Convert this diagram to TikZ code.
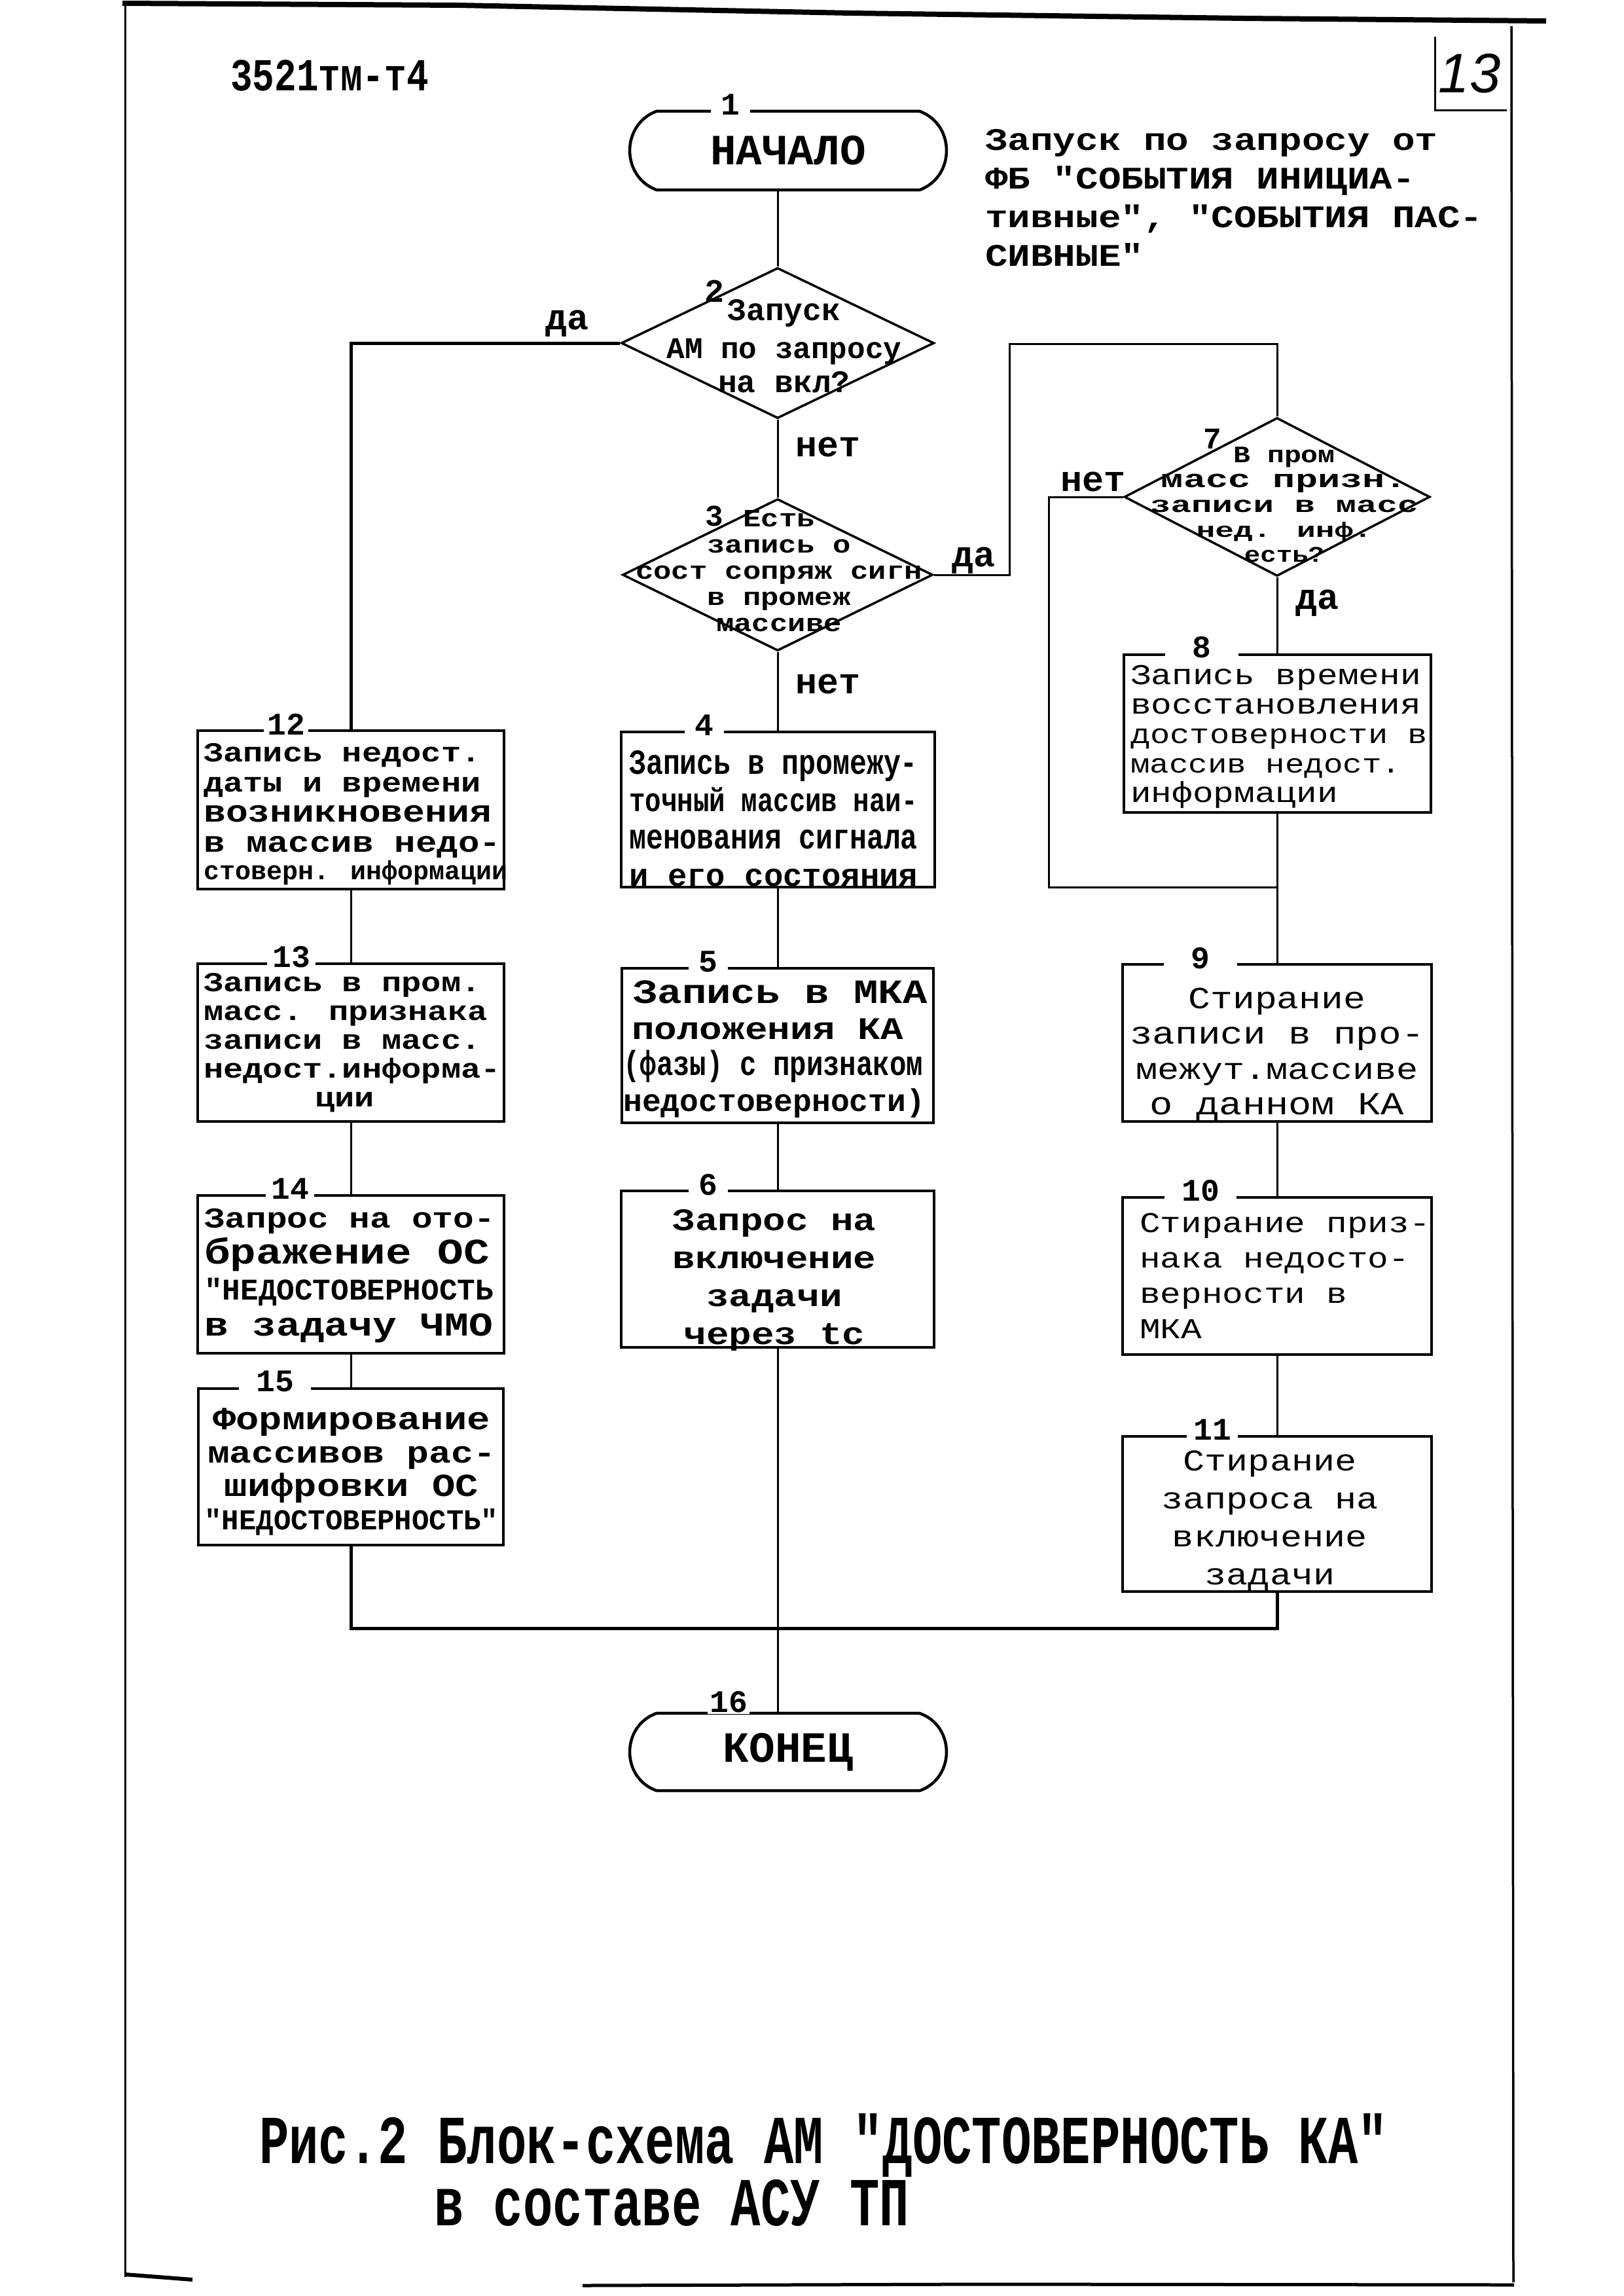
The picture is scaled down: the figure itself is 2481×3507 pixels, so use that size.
\documentclass[tikz,border=0pt]{standalone}
\usepackage{fontspec}
\usetikzlibrary{shapes.geometric}
\newfontfamily\mono{Liberation Mono}
\newfontfamily\monoN[FakeStretch=0.8]{Liberation Mono}
\newfontfamily\monoNN[FakeStretch=0.72]{Liberation Mono}
\newfontfamily\monoW[FakeStretch=1.2]{Liberation Mono}
\newfontfamily\monoX[FakeStretch=1.5]{Liberation Mono}
\newfontfamily\handf{Liberation Sans}
\newcommand\fsz[2]{\fontsize{#1pt}{#2pt}\selectfont\lineskiplimit=-1000pt\relax}
\newcommand\termoutline[1]{%
  \draw[term] ([xshift=41pt]#1.north west) -- ([xshift=-41pt]#1.north east)
    .. controls ([xshift=14pt,yshift=40pt]#1.east) and ([xshift=14pt,yshift=-40pt]#1.east) .. ([xshift=-41pt]#1.south east)
    -- ([xshift=41pt]#1.south west)
    .. controls ([xshift=-14pt,yshift=-40pt]#1.west) and ([xshift=-14pt,yshift=40pt]#1.west) .. cycle;}
\tikzset{
  blk/.style 2 args={draw, line width=4pt, inner sep=0pt, minimum width=#1, minimum height=#2},
  dia/.style 2 args={draw, shape=diamond, line width=3.5pt, inner sep=0pt, minimum width=#1, minimum height=#2},
  termnode/.style={inner sep=0pt, minimum width=483pt, minimum height=120pt, font=\mono\bfseries\fsz{66}{66}},
  term/.style={line width=4.5pt},
  num/.style={fill=white, inner ysep=2pt, font=\mono\bfseries\fsz{48}{48}},
  txt/.style={inner sep=0pt},
  lab/.style={inner sep=0pt, font=\mono\bfseries\fsz{55}{55}},
  conn/.style={line width=3pt},
  connB/.style={line width=5pt},
  frame/.style={line width=3pt}
}
\begin{document}
\begin{tikzpicture}[x=1pt,y=-1pt]
\useasboundingbox (0,0) rectangle (2481,3507);
% page frame
\draw[line width=8pt] (187,5) -- (700,8) -- (1300,20) -- (1900,28) -- (2362,32);
\draw[frame] (191,5) -- (191,3478);
\draw[line width=6pt] (191,3474) -- (294,3482);
\draw[line width=5pt] (890,3491) -- (1500,3489) -- (2313,3490);
\draw[line width=3.5pt] (2309,40) -- (2312,3486);
\draw[frame] (2192,56) -- (2192,168) -- (2302,168);
\node[txt, anchor=west, font=\monoN\bfseries\fsz{70}{70}] (hdr) at (352,115) {3521тм-т4};
\node[txt, font=\handf\itshape\fsz{85}{85}] (pg) at (2245,112) {13};

% terminals
\node[termnode] (start) at (1204,230) {НАЧАЛО};
\node[termnode, minimum height=118pt] (end) at (1204,2676) {КОНЕЦ};
\termoutline{start}
\termoutline{end}

% diamonds
\node[dia={478pt}{230pt}] (d2) at (1188,524) {};
\node[dia={474pt}{232pt}] (d3) at (1188,878) {};
\node[dia={467pt}{242pt}] (d7) at (1951,759) {};

% boxes
\node[blk={468pt}{242pt}] (b12) at (536,1237) {};
\node[blk={468pt}{241pt}] (b13) at (536,1592) {};
\node[blk={468pt}{241pt}] (b14) at (536,1946) {};
\node[blk={466pt}{239pt}] (b15) at (536,2240) {};
\node[blk={479pt}{237pt}] (b4) at (1188,1236) {};
\node[blk={476pt}{236pt}] (b5) at (1188,1597) {};
\node[blk={478pt}{239pt}] (b6) at (1188,1938) {};
\node[blk={469pt}{241pt}] (b8) at (1951,1120) {};
\node[blk={472pt}{240pt}] (b9) at (1951,1593) {};
\node[blk={472pt}{240pt}] (b10) at (1951,1949) {};
\node[blk={472pt}{237pt}] (b11) at (1951,2312) {};

% connectors
\coordinate (k1) at (1542,525);
\coordinate (k2) at (1602,1355);
\coordinate (k3) at (536,2487);
\draw[conn] (start.south -| d2.north) -- (d2.north);
\draw[connB] (d2.west) -| (b12.north);
\draw[conn] (d2.south) -- (d3.north);
\draw[conn] (d3.south) -- (b4.north);
\draw[conn] (b4.south) -- (b5.north);
\draw[conn] (b5.south) -- (b6.north);
\draw[conn] (d3.east) -| (k1) -| (d7.north);
\draw[conn] (d7.south) -- (b8.north);
\draw[conn] (b8.south) -- (b9.north);
\draw[conn] (b9.south) -- (b10.north);
\draw[conn] (b10.south) -- (b11.north);
\draw[conn] (d7.west) -| (k2) -- (k2 -| b8.south);
\draw[conn] (b12.south) -- (b13.north);
\draw[conn] (b13.south) -- (b14.north);
\draw[conn] (b14.south) -- (b15.north);
\draw[connB] (b15.south) -- (k3) -| (b11.south);
\draw[conn] (b6.south) -- (b6.south |- end.north);

% number labels
\node[num, inner xsep=16pt] (n1) at (1116,160) {1};
\node[num, inner xsep=3pt] (n16) at (1113,2600) {16};
\node[num, inner xsep=5pt] (n12) at (437,1106) {12};
\node[num, inner xsep=8pt] (n13) at (445,1462) {13};
\node[num, inner xsep=8pt] (n14) at (443,1816) {14};
\node[num, inner xsep=26pt] (n15) at (420,2110) {15};
\node[num, inner xsep=16pt] (n4) at (1076,1108) {4};
\node[num, inner xsep=16pt] (n5) at (1082,1469) {5};
\node[num, inner xsep=16pt] (n6) at (1082,1810) {6};
\node[num, inner xsep=42pt] (n8) at (1836,989) {8};
\node[num, inner xsep=42pt] (n9) at (1834,1464) {9};
\node[num, inner xsep=26pt] (n10) at (1834,1819) {10};
\node[num, inner xsep=10pt] (n11) at (1852,2184) {11};
\node[txt, font=\mono\bfseries\fsz{50}{50}] (n2) at (1091,445) {2};
\node[txt, font=\mono\bfseries\fsz{46}{46}] (n3) at (1091,788) {3};
\node[txt, font=\mono\bfseries\fsz{46}{46}] (n7) at (1852,670) {7};

% yes/no labels
\node[lab] (l2yes) at (866,494) {да};
\node[lab, anchor=west] (l2no) at (1215,683) {нет};
\node[lab, anchor=west] (l3no) at (1215,1045) {нет};
\node[lab] (l3yes) at (1487,856) {да};
\node[lab] (l7no) at (1670,736) {нет};
\node[lab] (l7yes) at (2012,921) {да};

% annotation
\node[txt, anchor=west, align=left, font=\monoW\bfseries\fsz{48}{59}] (note) at (1505,302)
  {Запуск по запросу от\\ФБ "СОБЫТИЯ ИНИЦИА-\\тивные", "СОБЫТИЯ ПАС-\\СИВНЫЕ"};

% diamond texts
\node[txt, align=center, font=\mono\bfseries\fsz{48}{55}] (td2) at (1198,529)
  {Запуск\\[3pt]{\fsz{46}{55}АМ по запросу}\\[-3pt]на вкл?};
\node[txt, align=center, font=\monoW\bfseries\fsz{38}{40}] (td3) at (1190,872)
  {Есть\\запись о\\сост сопряж сигн\\в промеж\\массиве};
\node[txt, align=center, font=\monoX\bfseries\fsz{36}{38}] (td7) at (1962,771)
  {{\monoW\fsz{36}{38}В пром}\\{\fsz{38}{38}масс призн.}\\{\fsz{35}{38}записи в масс}\\{\fsz{32}{38}нед. инф.}\\{\monoW\fsz{34}{38}есть?}};

% box texts
\node[txt, anchor=west, align=left, font=\monoW\bfseries\fsz{45}{46}] (t12) at (311,1244)
  {{\fsz{42}{46}Запись недост.}\\{\fsz{42}{46}даты и времени}\\{\fsz{47}{46}возникновения}\\в массив недо-\\[-4pt]{\mono\fsz{40}{40}стоверн. информации}};
\node[txt, anchor=west, align=left, font=\monoW\bfseries\fsz{42}{44}] (t13) at (311,1593)
  {Запись в пром.\\масс. признака\\записи в масс.\\недост.информа-\\\hspace*{170pt}ции};
\node[txt, anchor=west, align=left, font=\monoW\bfseries\fsz{44}{55}] (t14) at (312,1949)
  {Запрос на ото-\\{\fsz{55}{55}бражение ОС}\\{\mono\fsz{46}{55}"НЕДОСТОВЕРНОСТЬ}\\{\fsz{51}{55}в задачу ЧМО}};
\node[txt, align=center, font=\monoW\bfseries\fsz{49}{51}] (t15) at (537,2248)
  {Формирование\\{\fsz{47}{51}массивов рас-}\\шифровки ОС\\{\mono\fsz{44}{51}"НЕДОСТОВЕРНОСТЬ"}};
\node[txt, anchor=west, align=left, font=\monoN\bfseries\fsz{54}{57}] (t4) at (961,1250)
  {Запись в промежу-\\{\fsz{51}{57}точный массив наи-}\\менования сигнала\\{\mono\fsz{49}{57}и его состояния}};
\node[txt, anchor=west, align=left, font=\monoW\bfseries\fsz{48}{55}] (t5) at (952,1603)
  {\hspace*{15pt}{\fsz{52}{55}Запись в МКА}\\\hspace*{13pt}положения КА\\{\monoN\fsz{53}{55}(фазы) с признаком}\\{\mono\fsz{48}{55}недостоверности)}};
\node[txt, align=center, font=\monoW\bfseries\fsz{48}{58}] (t6) at (1183,1955)
  {Запрос на\\включение\\задачи\\через tc};
\node[txt, anchor=west, align=left, font=\monoW\fsz{44}{45}] (t8) at (1727,1125)
  {Запись времени\\восстановления\\{\fsz{42}{45}достоверности в}\\{\fsz{41}{45}массив недост.}\\информации};
\node[txt, align=center, font=\monoW\fsz{47}{54}] (t9) at (1951,1611)
  {Стирание\\{\fsz{48}{54}записи в про-}\\{\fsz{46}{54}межут.массиве}\\{\fsz{49}{54}о данном КА}};
\node[txt, anchor=west, align=left, font=\monoW\fsz{44}{54}] (t10) at (1741,1949)
  {Стирание приз-\\нака недосто-\\верности в\\МКА};
\node[txt, align=center, font=\monoW\fsz{46}{58}] (t11) at (1940,2323)
  {Стирание\\запроса на\\включение\\задачи};

% caption
\node[txt, anchor=west, font=\monoNN\bfseries\fsz{105}{105}] (cap1) at (396,3277) {Рис.2 Блок-схема АМ "ДОСТОВЕРНОСТЬ КА"};
\node[txt, anchor=west, font=\monoNN\bfseries\fsz{105}{105}] (cap2) at (663,3365) {в составе АСУ ТП};
\end{tikzpicture}
\end{document}
